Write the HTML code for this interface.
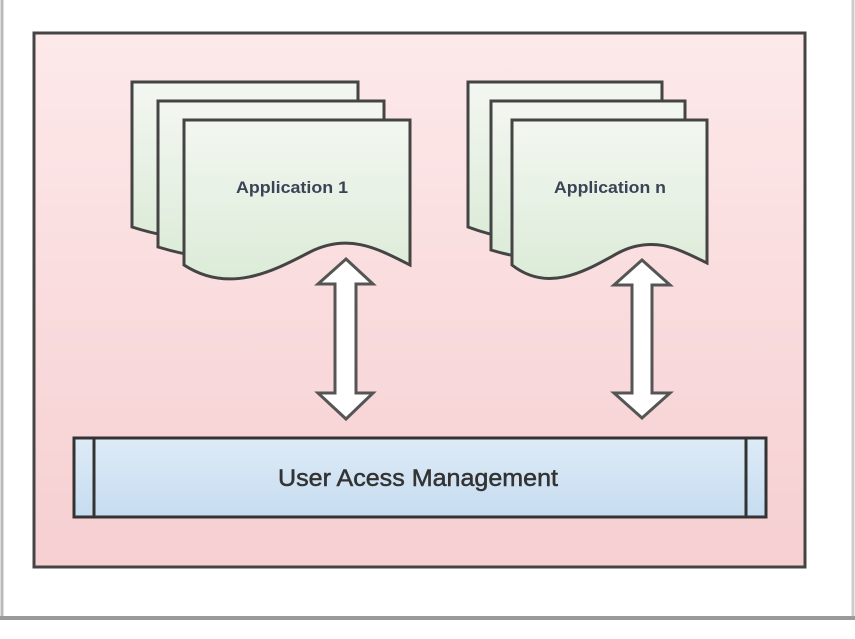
<!DOCTYPE html>
<html><head><meta charset="utf-8"><style>
html,body{margin:0;padding:0;background:#fff;width:855px;height:639px;overflow:hidden}
</style></head><body>
<svg width="855" height="639" viewBox="0 0 855 639" xmlns="http://www.w3.org/2000/svg">
<defs>
<linearGradient id="pink" x1="0" y1="0" x2="0" y2="1"><stop offset="0" stop-color="#fde9ea"/><stop offset="1" stop-color="#f6cfd1"/></linearGradient>
<linearGradient id="grn" x1="0" y1="0" x2="0" y2="1"><stop offset="0" stop-color="#f3f7f1"/><stop offset="1" stop-color="#dcebd8"/></linearGradient>
<linearGradient id="blu" x1="0" y1="0" x2="0" y2="1"><stop offset="0" stop-color="#deebf7"/><stop offset="1" stop-color="#c6dcf0"/></linearGradient>
</defs>
<rect x="0" y="0" width="855" height="620" fill="#fff"/>
<line x1="2" y1="0" x2="2" y2="620" stroke="#bbb" stroke-width="3"/>
<line x1="853" y1="0" x2="853" y2="620" stroke="#ccc" stroke-width="3"/>
<line x1="0" y1="618" x2="855" y2="618" stroke="#9a9a9a" stroke-width="4"/>
<rect x="34" y="33" width="771" height="534" fill="url(#pink)" stroke="#444" stroke-width="3"/>
<g stroke="#444" stroke-width="3" fill="url(#grn)">
<path d="M132,82 H358 V228 C328,213 298,208 268,223 C238,238 198,248 132,227 Z"/>
<path d="M158,101 H384 V247 C354,232 324,227 294,242 C264,257 224,267 158,247 Z"/>
<path d="M184,120 H410 V265 C380,250 350,232 310,252 C275,270 230,295 184,265 Z"/>
<path d="M468,82 H662 V228 C636,213 610,208 584,223 C558,238 524,248 468,227 Z"/>
<path d="M491,101 H685 V247 C659,232 633,227 607,242 C581,257 547,267 491,250 Z"/>
<path d="M512,120 H707 V263 C680,250 655,235 620,252 C590,268 550,295 512,265 Z"/>
</g>
<g font-family="Liberation Sans, sans-serif" font-weight="bold" font-size="17" fill="#3a4456">
<text x="236" y="193" textLength="112" lengthAdjust="spacingAndGlyphs">Application 1</text>
<text x="554" y="193" textLength="112" lengthAdjust="spacingAndGlyphs">Application n</text>
</g>
<g stroke="#555" stroke-width="3" fill="#fff" stroke-linejoin="miter">
<path d="M346,259 L373,284 H356 V393 H373 L346,419 L318,393 H335 V284 H318 Z"/>
<path d="M642,260 L670,285 H652 V393 H670 L642,418 L614,393 H632 V285 H614 Z"/>
</g>
<rect x="74" y="438" width="692" height="79" fill="url(#blu)" stroke="#333" stroke-width="3"/>
<line x1="94" y1="438" x2="94" y2="517" stroke="#333" stroke-width="3"/>
<line x1="746" y1="438" x2="746" y2="517" stroke="#333" stroke-width="3"/>
<text x="278" y="486" font-family="Liberation Sans, sans-serif" font-size="24" fill="#333" stroke="#333" stroke-width="0.5" textLength="280" lengthAdjust="spacingAndGlyphs">User Acess Management</text>
</svg>
</body></html>
